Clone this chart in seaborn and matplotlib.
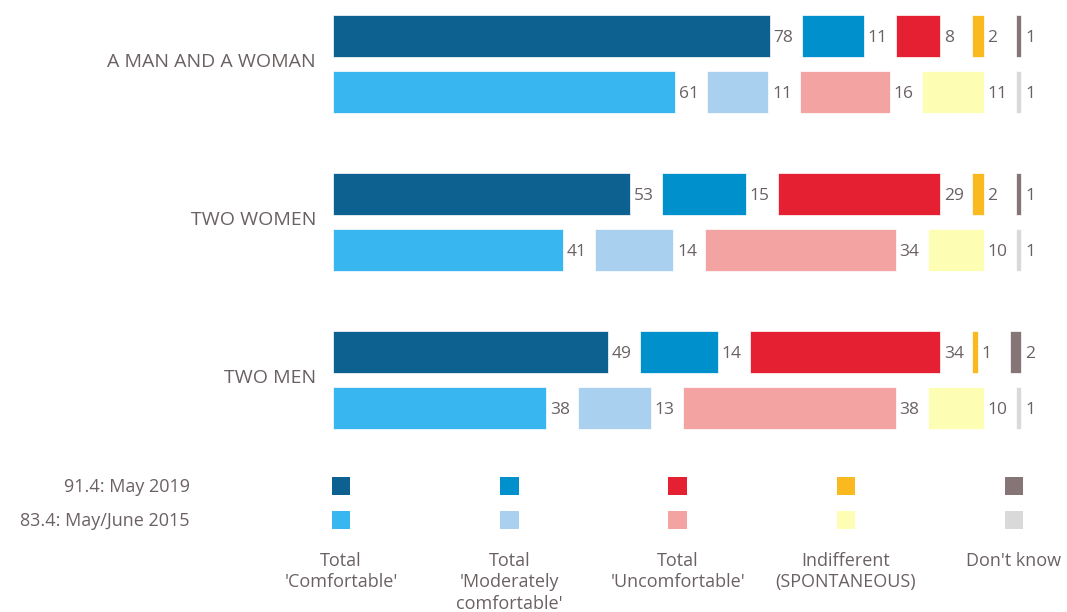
import matplotlib
matplotlib.use("Agg")
import matplotlib.pyplot as plt
import numpy as np
import seaborn as sns

# ---------------- data ----------------
categories = ["A MAN AND A WOMAN", "TWO WOMEN", "TWO MEN"]
segments = ["Total\n'Comfortable'", "Total\n'Moderately\ncomfortable'",
            "Total\n'Uncomfortable'", "Indifferent\n(SPONTANEOUS)", "Don't know"]
series = ["91.4: May 2019", "83.4: May/June 2015"]

comfortable_2019 = [78, 53, 49]
moderately_2019 = [11, 15, 14]
uncomfortable_2019 = [8, 29, 34]
indifferent_2019 = [2, 2, 1]
dont_know_2019 = [1, 1, 2]

comfortable_2015 = [61, 41, 38]
moderately_2015 = [11, 14, 13]
uncomfortable_2015 = [16, 34, 38]
indifferent_2015 = [11, 10, 10]
dont_know_2015 = [1, 1, 1]

colors_2019 = ["#0c6191", "#0091cd", "#e42032", "#fbb920", "#857576"]
colors_2015 = ["#37b6ef", "#a9d1ef", "#f4a3a3", "#fdfdb4", "#d9d9d9"]

values = {
    series[0]: [comfortable_2019, moderately_2019, uncomfortable_2019, indifferent_2019, dont_know_2019],
    series[1]: [comfortable_2015, moderately_2015, uncomfortable_2015, indifferent_2015, dont_know_2015],
}
palettes = {series[0]: colors_2019, series[1]: colors_2015}

# ---------------- layout ----------------
W, H = 1067, 612
PX = 5.6            # pixels per percentage point
X0 = 333.3          # pixel x of the zero line
GAP = 32 / PX       # gap between segments (in value units)
TEXT = "#6b6163"

sns.set_theme(style="white")
plt.rcParams["font.family"] = ["Open Sans", "DejaVu Sans"]

fig = plt.figure(figsize=(W / 100, H / 100), dpi=100)
ax = fig.add_axes([0, 0, 1, 1])

group_pitch = 158
row_offset = {series[0]: 0.0, series[1]: 55.5}
first_center = 36
bar_h = 42

def u(px):
    return (px - X0) / PX

for s in series:
    centers = np.array([first_center + g * group_pitch + row_offset[s] for g in range(len(categories))])
    segs = [np.array(v, dtype=float) for v in values[s]]
    start = np.zeros(len(categories))
    for k, seg in enumerate(segs):
        sns.barplot(x=seg, y=centers, orient="h", native_scale=True,
                    left=start, color=palettes[s][k], saturation=1,
                    width=bar_h / group_pitch, errorbar=None, ax=ax,
                    edgecolor="white", linewidth=0.5)
        for c, st, v in zip(centers, start, seg):
            ax.text(st + v + 0.65, c + 6.5, f"{v:g}", ha="left", va="baseline",
                    fontsize=12.5, color=TEXT)
        start = start + seg + GAP

# category labels
for g, cat in enumerate(categories):
    yc = first_center + g * group_pitch + row_offset[series[1]] / 2
    ax.text(u(316), yc + 3.5, cat, ha="right", va="baseline", fontsize=14, color=TEXT)

# legend
leg_x = [341 + i * 168.25 for i in range(len(segments))]
leg_y = {series[0]: 486, series[1]: 520}
for s in series:
    ax.scatter([u(x) for x in leg_x], [leg_y[s]] * len(leg_x), marker="s",
               s=(18.5 * 0.72) ** 2, c=palettes[s], linewidths=0)
    ax.text(u(190), leg_y[s] + 6, s, ha="right", va="baseline", fontsize=13, color=TEXT)

for x, lab in zip(leg_x, segments):
    for i, line in enumerate(lab.split("\n")):
        ax.text(u(x), 565.7 + i * 21.5, line, ha="center", va="baseline",
                fontsize=13, color=TEXT)

ax.set_xlim(u(0), u(W))
ax.set_ylim(H, 0)
ax.axis("off")

fig.savefig("out.png", dpi=100)
